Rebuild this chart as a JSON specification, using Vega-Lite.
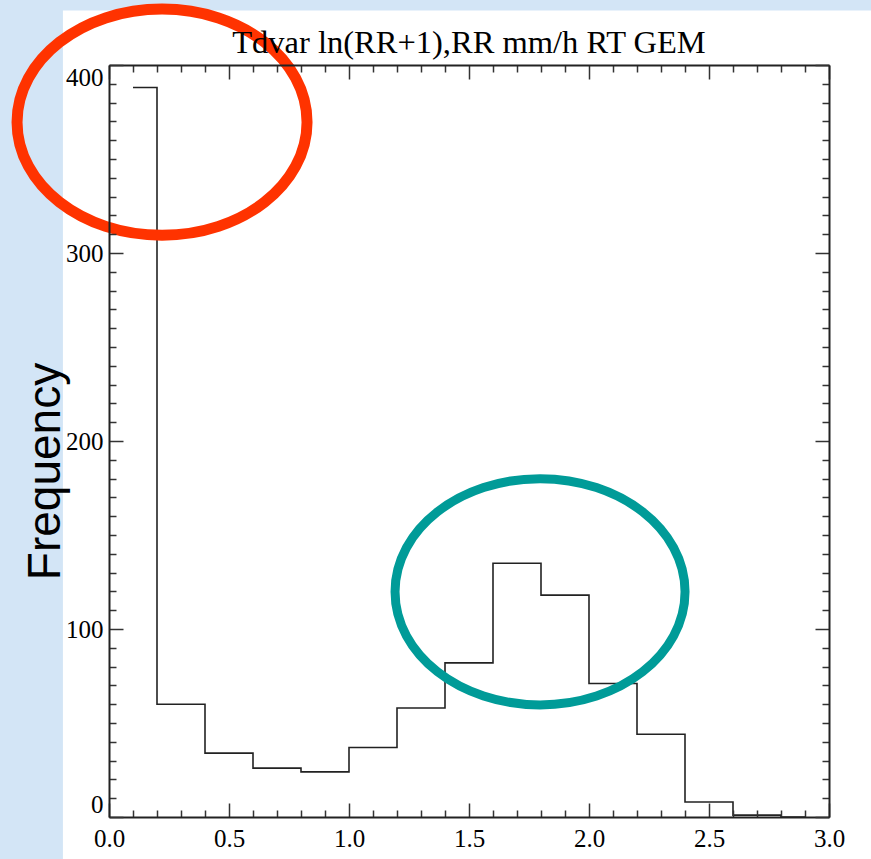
{
  "$schema": "https://vega.github.io/schema/vega-lite/v6.json",
  "width": 720,
  "height": 752,
  "autosize": {"type": "none"},
  "padding": {"left": 109, "top": 65, "right": 42, "bottom": 42},
  "background": "#d3e5f6",
  "config": {"view": {"stroke": null}},
  "title": {"text": "Tdvar ln(RR+1),RR mm/h RT GEM", "font": "Liberation Serif", "fontSize": 32.5, "fontWeight": "normal", "color": "black", "offset": 0, "dy": 98, "baseline": "alphabetic", "anchor": "middle", "frame": "group"},
  "datasets": {
    "hist": [
      {"center": 0.1, "count": 388},
      {"center": 0.3, "count": 60},
      {"center": 0.5, "count": 34},
      {"center": 0.7, "count": 26},
      {"center": 0.9, "count": 24},
      {"center": 1.1, "count": 37},
      {"center": 1.3, "count": 58},
      {"center": 1.5, "count": 82},
      {"center": 1.7, "count": 135},
      {"center": 1.9, "count": 118},
      {"center": 2.1, "count": 71},
      {"center": 2.3, "count": 44},
      {"center": 2.5, "count": 8},
      {"center": 2.7, "count": 1},
      {"center": 2.9, "count": 0}
    ],
    "marks": [
      {"label": "peak", "cx": 0.221, "cy": 369.6},
      {"label": "bump", "cx": 1.796, "cy": 119.8}
    ]
  },
  "resolve": {"axis": {"x": "independent", "y": "independent"}},
  "layer": [
    {
      "data": {"values": [{"panel": "background"}]},
      "mark": {"type": "rect", "fill": "white", "stroke": null},
      "encoding": {
        "x": {"datum": -0.192, "type": "quantitative", "scale": {"domain": [0, 3]}, "axis": null},
        "x2": {"datum": 3.2},
        "y": {"datum": -30, "type": "quantitative", "scale": {"domain": [0, 400]}, "axis": null},
        "y2": {"datum": 429}
      }
    },
    {
      "data": {"name": "hist"},
      "mark": {"type": "line", "interpolate": "step", "color": "#222222", "strokeWidth": 1.6},
      "encoding": {
        "x": {"field": "center", "type": "quantitative", "scale": {"domain": [0, 3]},
          "axis": {"orient": "bottom", "zindex": 1, "title": null, "grid": false,
            "values": [0,0.1,0.2,0.3,0.4,0.5,0.6,0.7,0.8,0.9,1.0,1.1,1.2,1.3,1.4,1.5,1.6,1.7,1.8,1.9,2.0,2.1,2.2,2.3,2.4,2.5,2.6,2.7,2.8,2.9,3.0],
            "tickSize": {"condition": {"test": "abs(datum.value*2 - round(datum.value*2)) < 0.001", "value": -14}, "value": -7},
            "labelExpr": "abs(datum.value*2 - round(datum.value*2)) < 0.001 ? format(datum.value, '.1f') : ''",
            "tickColor": "#333333", "tickWidth": 1.5, "domainColor": "#222222", "domainWidth": 2,
            "labelFont": "Liberation Serif", "labelFontSize": 25, "labelColor": "black", "labelPadding": 23,
            "labelFlush": false, "labelOverlap": false, "labelBaseline": "top"}},
        "y": {"field": "count", "type": "quantitative", "scale": {"domain": [0, 400]},
          "axis": {"orient": "left", "zindex": 1, "grid": false,
            "title": "Frequency", "titleFont": "Liberation Sans", "titleFontSize": 46, "titleFontWeight": "normal", "titleColor": "black",
            "titleAngle": -90, "titleAlign": "center", "titleBaseline": "middle", "titleX": -64, "titleY": 406,
            "values": [0,10,20,30,40,50,60,70,80,90,100,110,120,130,140,150,160,170,180,190,200,210,220,230,240,250,260,270,280,290,300,310,320,330,340,350,360,370,380,390,400],
            "tickSize": {"condition": {"test": "datum.value % 100 === 0", "value": -14}, "value": -7},
            "labelExpr": "datum.value % 100 === 0 ? format(datum.value, 'd') : ''",
            "tickColor": "#333333", "tickWidth": 1.5, "domainColor": "#222222", "domainWidth": 2,
            "labelFont": "Liberation Serif", "labelFontSize": 25, "labelColor": "black", "labelPadding": 20,
            "labelFlush": true, "labelOverlap": false}}
      }
    },
    {
      "data": {"name": "hist"},
      "mark": {"type": "line", "opacity": 0},
      "encoding": {
        "x": {"field": "center", "type": "quantitative", "scale": {"domain": [0, 3]},
          "axis": {"orient": "top", "zindex": 1, "title": null, "grid": false, "labels": false,
            "values": [0,0.1,0.2,0.3,0.4,0.5,0.6,0.7,0.8,0.9,1.0,1.1,1.2,1.3,1.4,1.5,1.6,1.7,1.8,1.9,2.0,2.1,2.2,2.3,2.4,2.5,2.6,2.7,2.8,2.9,3.0],
            "tickSize": {"condition": {"test": "abs(datum.value*2 - round(datum.value*2)) < 0.001", "value": -14}, "value": -7},
            "tickColor": "#333333", "tickWidth": 1.5, "domainColor": "#222222", "domainWidth": 2}},
        "y": {"field": "count", "type": "quantitative", "scale": {"domain": [0, 400]},
          "axis": {"orient": "right", "zindex": 1, "title": null, "grid": false, "labels": false,
            "values": [0,10,20,30,40,50,60,70,80,90,100,110,120,130,140,150,160,170,180,190,200,210,220,230,240,250,260,270,280,290,300,310,320,330,340,350,360,370,380,390,400],
            "tickSize": {"condition": {"test": "datum.value % 100 === 0", "value": -14}, "value": -7},
            "tickColor": "#333333", "tickWidth": 1.5, "domainColor": "#222222", "domainWidth": 2}}
      }
    },
    {
      "data": {"name": "marks"},
      "mark": {"type": "point", "filled": false, "shape": "M -1 0 A 1 0.78 0 1 0 1 0 A 1 0.78 0 1 0 -1 0 Z", "size": 84100, "opacity": 1, "clip": false},
      "encoding": {
        "x": {"field": "cx", "type": "quantitative", "scale": {"domain": [0, 3]}, "axis": null},
        "y": {"field": "cy", "type": "quantitative", "scale": {"domain": [0, 400]}, "axis": null},
        "stroke": {"field": "label", "type": "nominal", "scale": {"domain": ["peak", "bump"], "range": ["#ff3300", "#009b98"]}, "legend": null},
        "strokeWidth": {"field": "label", "type": "nominal", "scale": {"domain": ["peak", "bump"], "range": [11, 9]}, "legend": null}
      }
    }
  ]
}
